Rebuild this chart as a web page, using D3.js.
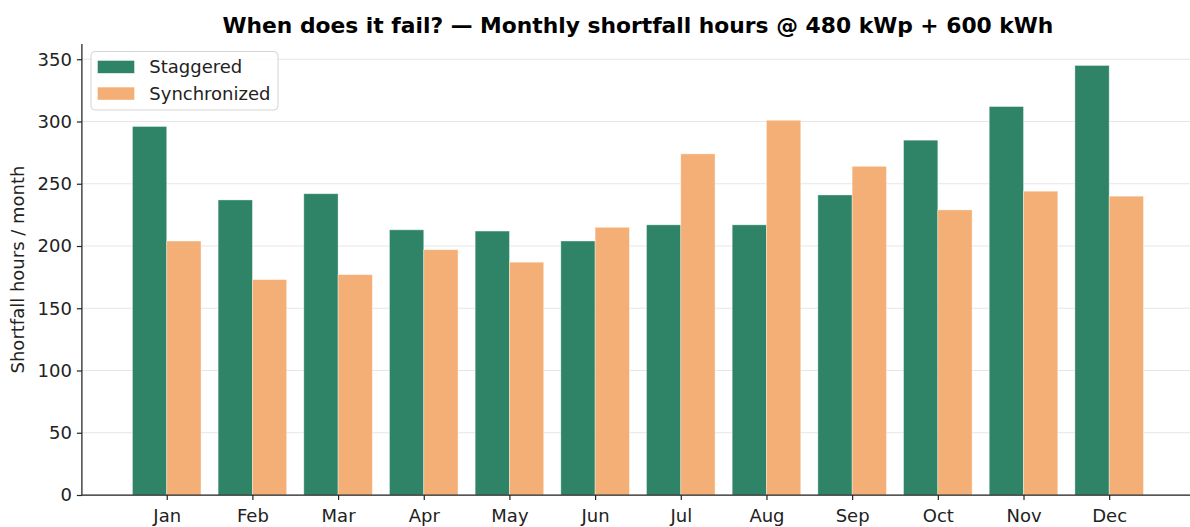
<!DOCTYPE html>
<html>
<head>
<meta charset="utf-8">
<script src="https://cdn.jsdelivr.net/npm/d3@7"></script>
<style>
  html, body { margin: 0; padding: 0; background: #fff; }
  svg { display: block; font-family: "DejaVu Sans", sans-serif; }
</style>
</head>
<body>
<svg id="chart" width="1190" height="527"></svg>
<script>
const months = ["Jan","Feb","Mar","Apr","May","Jun","Jul","Aug","Sep","Oct","Nov","Dec"];
const staggered = [296, 237, 242, 213, 212, 204, 217, 217, 241, 285, 312, 345];
const synchronized = [204, 173, 177, 197, 187, 215, 274, 301, 264, 229, 244, 240];
const seriesNames = ["Staggered", "Synchronized"];
const yTicks = [0, 50, 100, 150, 200, 250, 300, 350];
const titleText = "When does it fail? \u2014 Monthly shortfall hours @ 480 kWp + 600 kWh";
const yLabel = "Shortfall hours / month";

const colors = ["#2f8467", "#f4af76"];
const mLeft = 81.9, mRight = 1194, mTop = 44, mBottom = 495;
const fs = "18px";

const svg = d3.select("#chart");

const x = d3.scaleLinear().domain([-0.99, 11.99]).range([mLeft, mRight]);
const bw = 0.4;
const y = d3.scaleLinear().domain([0, 362.25]).range([mBottom, mTop]);

// gridlines
svg.append("g").selectAll("line").data(yTicks).join("line")
  .attr("x1", mLeft).attr("x2", mRight)
  .attr("y1", d => y(d)).attr("y2", d => y(d))
  .attr("stroke", "#e6e6e6").attr("stroke-width", 1);

// bars
const series = [staggered, synchronized];
series.forEach((vals, s) => {
  svg.append("g").selectAll("rect").data(vals).join("rect")
    .attr("x", (d, i) => x(i + (s === 0 ? -bw : 0)))
    .attr("width", x(bw) - x(0))
    .attr("y", d => y(d))
    .attr("height", d => y(0) - y(d))
    .attr("fill", colors[s])
    .attr("stroke", "rgba(255,255,255,0.45)")
    .attr("stroke-width", 0.8);
});

// y axis
const yAxis = d3.axisLeft(y).tickValues(yTicks).tickSize(5).tickPadding(5);
const gy = svg.append("g").attr("transform", `translate(${mLeft},0)`).call(yAxis);
gy.select(".domain").attr("d", `M0,${mBottom}V${mTop}`).attr("stroke", "#222").attr("stroke-width", 1.25);
gy.selectAll(".tick line").attr("stroke", "#222").attr("stroke-width", 1.2);
gy.selectAll(".tick text").attr("font-size", fs).attr("fill", "#222").attr("font-family", "DejaVu Sans");

// x axis
const xAxis = d3.axisBottom(x).tickValues(d3.range(months.length)).tickFormat(i => months[i]).tickSize(5).tickPadding(9);
const gx = svg.append("g").attr("transform", `translate(0,${mBottom})`).call(xAxis);
gx.select(".domain").attr("d", `M${mLeft},0H${mRight}`).attr("stroke", "#222").attr("stroke-width", 1.25);
gx.selectAll(".tick line").attr("stroke", "#222").attr("stroke-width", 1.2);
gx.selectAll(".tick text").attr("font-size", fs).attr("fill", "#222").attr("font-family", "DejaVu Sans");

// title
svg.append("text")
  .attr("x", (mLeft + mRight) / 2).attr("y", 33)
  .attr("text-anchor", "middle")
  .attr("font-size", "21.8px").attr("font-weight", "bold").attr("fill", "#000")
  .text(titleText);

// y label
svg.append("text")
  .attr("transform", `translate(24,${(mTop + mBottom) / 2}) rotate(-90)`)
  .attr("text-anchor", "middle")
  .attr("font-size", fs).attr("fill", "#222")
  .text(yLabel);

// legend
const lg = svg.append("g");
lg.append("rect")
  .attr("x", 91).attr("y", 51.5).attr("width", 187).attr("height", 58.5)
  .attr("rx", 4).attr("fill", "rgba(255,255,255,0.85)")
  .attr("stroke", "#d4d4d4").attr("stroke-width", 1);
seriesNames.forEach((name, i) => {
  const cy = 66.7 + i * 26.6;
  lg.append("rect").attr("x", 97.7).attr("y", cy - 6).attr("width", 36.6).attr("height", 12.5)
    .attr("fill", colors[i]);
  lg.append("text").attr("x", 149.3).attr("y", cy).attr("dy", "0.36em")
    .attr("font-size", fs).attr("fill", "#222").text(name);
});
</script>
</body>
</html>
